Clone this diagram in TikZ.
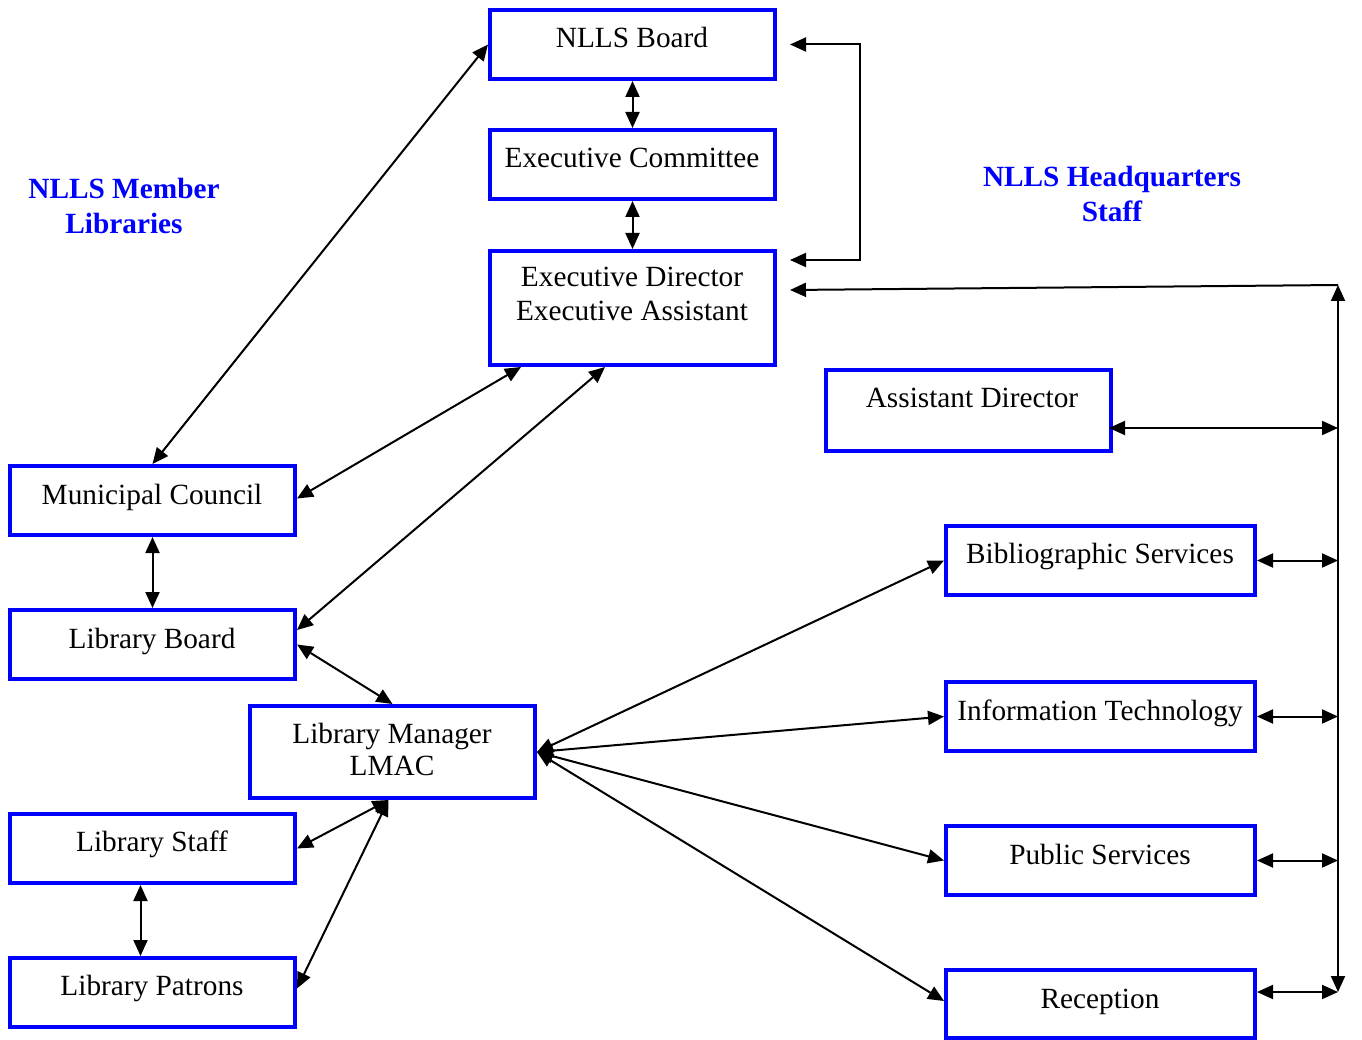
\documentclass[tikz,border=0pt]{standalone}
\usepackage{fontspec}
\setmainfont{Liberation Serif}
\usetikzlibrary{arrows.meta}
\begin{document}
\begin{tikzpicture}[x=1pt,y=-1pt,
  box/.style={draw=blue, line width=4pt, rectangle, inner sep=0pt},
  wbox/.style={box, minimum width=285pt, minimum height=69pt},
  sbox/.style={box, minimum width=309pt, minimum height=69pt},
  lbl/.style={font=\fontsize{29.3}{34}\selectfont, anchor=base, inner sep=0pt},
  hd/.style={font=\fontsize{29.3}{35}\selectfont\bfseries, text=blue, anchor=base, inner sep=0pt},
  tip/.tip={Triangle[length=16pt,width=14pt]},
  conn/.style={line width=2pt, tip-tip},
  oneway/.style={line width=2pt, -tip}]
\useasboundingbox (0,0) rectangle (1362,1040);

% boxes
\node[wbox] (board) at (632.5,44.5) {};
\node[wbox] (ec) at (632.5,164.5) {};
\node[box, minimum width=285pt, minimum height=114pt] (ed) at (632.5,308) {};
\node[box, minimum width=285pt, minimum height=81pt] (ad) at (968.5,410.5) {};
\node[wbox] (mc) at (152.5,500.5) {};
\node[wbox] (lb) at (152.5,644.5) {};
\node[box, minimum width=285pt, minimum height=92pt] (lm) at (392.5,752) {};
\node[wbox] (ls) at (152.5,848.5) {};
\node[wbox] (lp) at (152.5,992.5) {};
\node[sbox] (bib) at (1100.5,560.5) {};
\node[sbox] (it) at (1100.5,716.5) {};
\node[sbox] (ps) at (1100.5,860.5) {};
\node[sbox, minimum height=68pt] (rec) at (1100.5,1004) {};

% texts
\node[lbl] (boardt) at (632,48) {NLLS Board};
\node[lbl] (ect) at (632,168) {Executive Committee};
\node[lbl] (edt1) at (632,287) {Executive Director};
\node[lbl] (edt2) at (632,320.5) {Executive Assistant};
\node[lbl] (adt) at (972,407.5) {Assistant Director};
\node[lbl] (mct) at (152,504.5) {Municipal Council};
\node[lbl] (lbt) at (152,648.5) {Library Board};
\node[lbl] (lmt1) at (392,743) {Library Manager};
\node[lbl] (lmt2) at (392,775.5) {LMAC};
\node[lbl] (lst) at (152,851.5) {Library Staff};
\node[lbl] (lpt) at (152,995.5) {Library Patrons};
\node[lbl] (bibt) at (1100,563.5) {Bibliographic Services};
\node[lbl] (itt) at (1100,720.5) {Information Technology};
\node[lbl] (pst) at (1100,864.5) {Public Services};
\node[lbl] (rect) at (1100,1008.5) {Reception};

\node[hd] (mem1) at (124,198.5) {NLLS Member};
\node[hd] (mem2) at (124,233.5) {Libraries};
\node[hd] (hq1) at (1112,186.5) {NLLS Headquarters};
\node[hd] (hq2) at (1112,221.5) {Staff};

% bus
\coordinate (bustop) at (1338,285);
\coordinate (busbot) at (1338,992);

% connectors (top column)
\draw[conn] (board.south) -- (ec.north);
\draw[conn] (ec.south) -- (ed.north);
\draw[conn] ([xshift=13pt]board.east) -- ++(70,0) |- ([xshift=13pt,yshift=48pt]ed.east);
\draw[oneway] (bustop) -- ([xshift=13pt,yshift=18pt]ed.east);
\draw[conn] (busbot) -- (bustop);

% right column
\draw[conn] ([xshift=-4pt,yshift=-17.5pt]ad.east) -- ([yshift=-17.5pt]ad.east -| bustop);
\draw[conn] (bib.east) -- (bib.east -| bustop);
\draw[conn] (it.east) -- (it.east -| bustop);
\draw[conn] (ps.east) -- (ps.east -| bustop);
\draw[conn] ([yshift=12pt]rec.east) -- (busbot);

% left column
\draw[conn] (board.west) -- (mc.north);
\draw[conn] ([xshift=33pt]ed.south west) -- ([yshift=2pt]mc.east);
\draw[conn] ([xshift=117pt]ed.south west) -- ([yshift=14.5pt]lb.east);
\draw[conn] (mc.south) -- (lb.north);
\draw[conn] (lb.east) -- (lm.north);
\draw[conn] ([xshift=-4pt]lm.south) -- (ls.east);
\draw[conn] ([xshift=-4pt]lm.south) -- ([yshift=4pt]lp.east);
\draw[conn] ([xshift=-12pt]ls.south) -- ([xshift=-12pt]lp.north);

% fan from Library Manager
\draw[conn] (lm.east) -- (bib.west);
\draw[conn] (lm.east) -- (it.west);
\draw[conn] (lm.east) -- (ps.west);
\draw[conn] (lm.east) -- ([yshift=3pt]rec.west);
\end{tikzpicture}
\end{document}
